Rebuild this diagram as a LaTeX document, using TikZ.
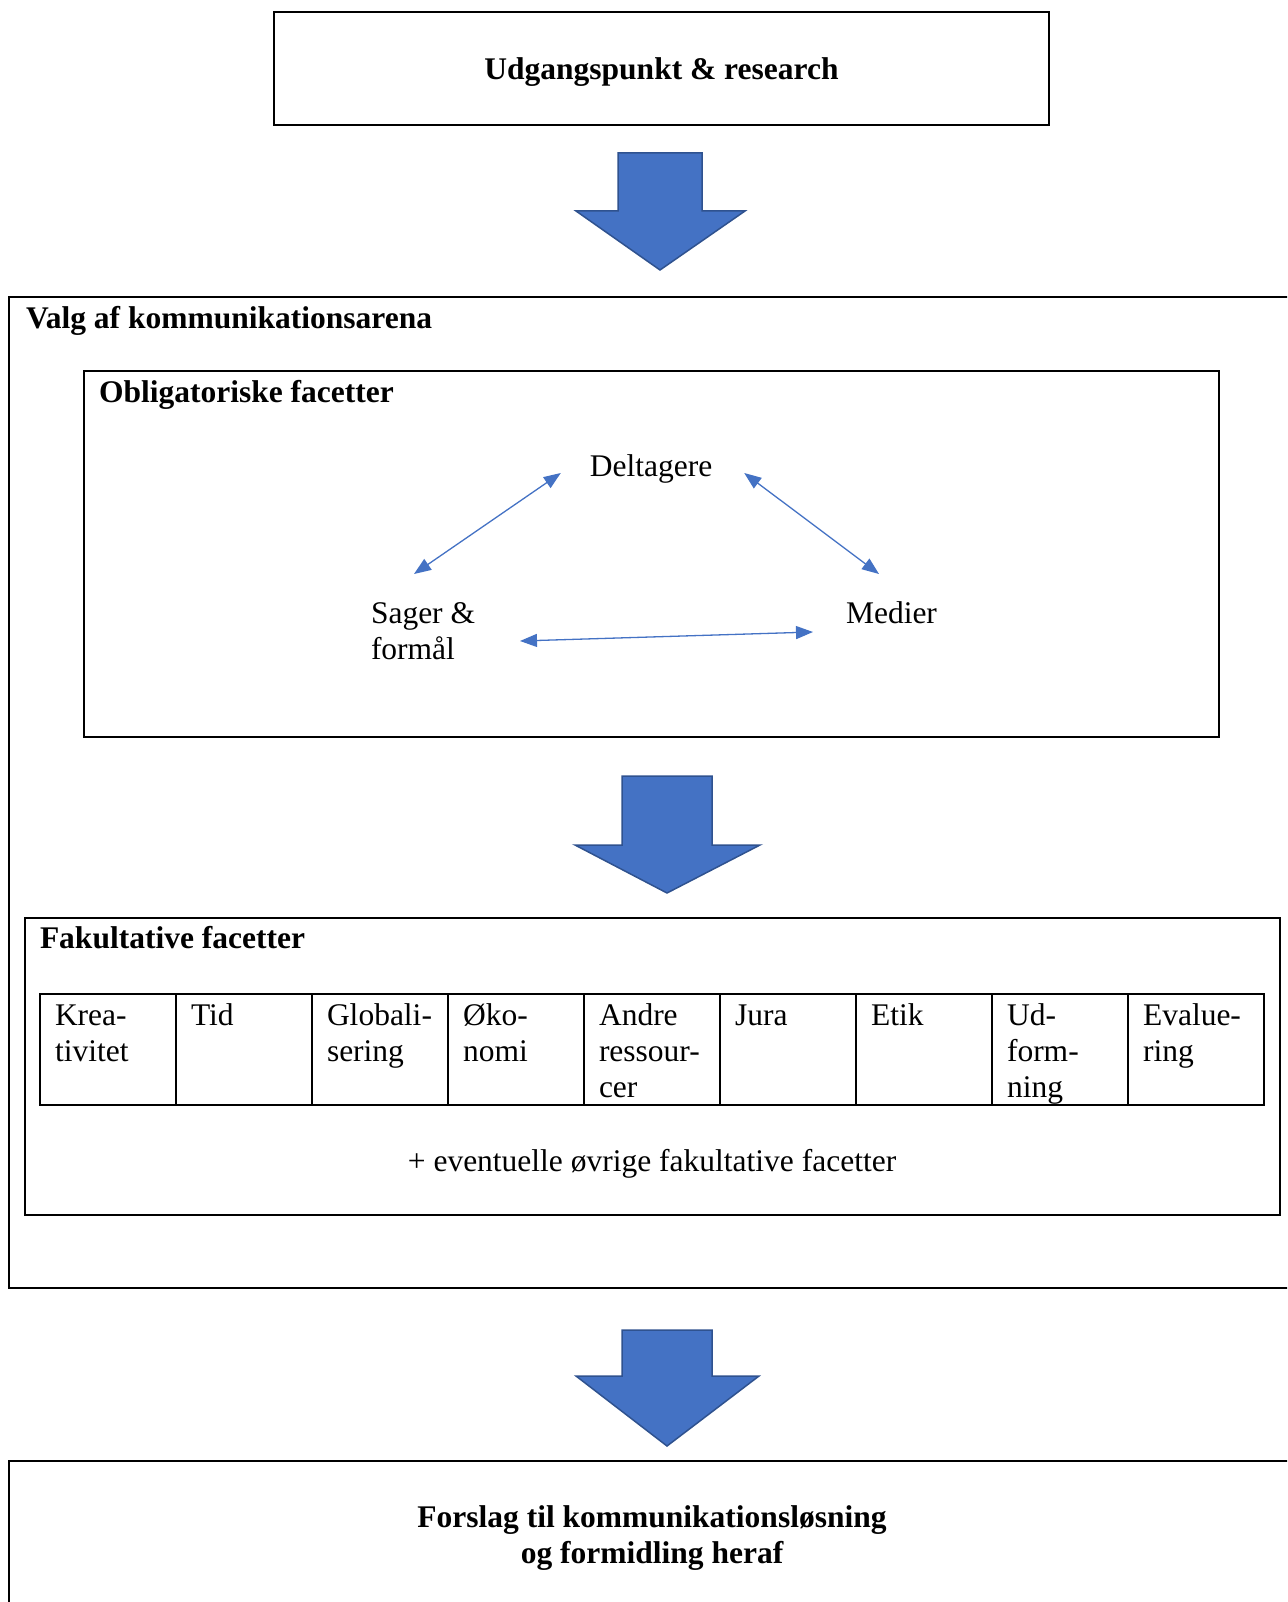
\documentclass[tikz,border=0pt]{standalone}
\usepackage{fontspec}
\setmainfont{Liberation Serif}
\usetikzlibrary{arrows.meta,calc}
\definecolor{officeblue}{HTML}{4472C4}
\definecolor{officeedge}{HTML}{2F528F}

\begin{document}
\begin{tikzpicture}[x=1pt,y=-1pt,
  every node/.style={font=\fontsize{31.5}{36.3}\selectfont, inner sep=0pt, outer sep=0pt},
  frame/.style={draw=black, line width=2pt, anchor=north west},
  heading/.style={anchor=base west, font=\fontsize{31.5}{36.3}\selectfont\bfseries},
  plain/.style={anchor=base west},
  bigarrow/.style={fill=officeblue, draw=officeedge, line width=1.5pt, line join=miter},
  link/.style={draw=officeblue, line width=1.3pt,
    {Triangle[length=17pt,width=13pt]}-{Triangle[length=17pt,width=13pt]}},
]
\useasboundingbox (0,0) rectangle (1287,1602);
\clip (0,0) rectangle (1287,1602);

% --- starting point -------------------------------------------------
\node[frame, minimum width=775pt, minimum height=113pt] (start) at (274,12) {};
\node[anchor=base, font=\fontsize{31.5}{36.3}\selectfont\bfseries] (starttxt) at (661.5,80) {Udgangspunkt \& research};

\path[bigarrow] (618,153) -- (702,153) -- (702,211) -- (745,211) -- (660,270)
  -- (576,211) -- (618,211) -- cycle;

% --- arena ------------------------------------------------------------
\node[frame, minimum width=1300pt, minimum height=991pt] (arena) at (9,297) {};
\node[heading] (arenatxt) at (26,328) {Valg af kommunikationsarena};

% mandatory facets
\node[frame, minimum width=1135pt, minimum height=366pt] (oblig) at (84,371) {};
\node[heading] (obligtxt) at (99,402) {Obligatoriske facetter};

\node[anchor=base] (delt) at (651,476) {Deltagere};
\node[plain] (sager) at (371,623) {\begin{tabular}[t]{@{}l@{}}Sager \&\\formål\end{tabular}};
\node[plain] (medier) at (846,623) {Medier};

\draw[link] ($(delt.base west)+(-29,-3)$) -- ($(sager.base west)+(43,-49)$);
\draw[link] ($(delt.base east)+(32,-3)$) -- ($(medier.base west)+(33,-49)$);
\draw[link] ($(sager.base west)+(149,18)$) -- ($(medier.base west)+(-33,9)$);

\path[bigarrow] (622,776) -- (712,776) -- (712,845) -- (760,845) -- (667,893)
  -- (575,845) -- (622,845) -- cycle;

% optional facets
\node[frame, minimum width=1255pt, minimum height=297pt] (fakult) at (25,918) {};
\node[heading] (fakulttxt) at (40,948) {Fakultative facetter};

\node[frame, minimum width=1224pt, minimum height=111pt] (tbl) at (40,994) {};
\foreach \i in {1,...,8}
  \draw[line width=2pt] ($(tbl.north west)+(136*\i,0)$) -- ($(tbl.south west)+(136*\i,0)$);

\node[plain] (c1) at (55,1025)   {\begin{tabular}[t]{@{}l@{}}Krea-\\tivitet\end{tabular}};
\node[plain] (c2) at (191,1025)  {Tid};
\node[plain] (c3) at (327,1025)  {\begin{tabular}[t]{@{}l@{}}Globali-\\sering\end{tabular}};
\node[plain] (c4) at (463,1025)  {\begin{tabular}[t]{@{}l@{}}Øko-\\nomi\end{tabular}};
\node[plain] (c5) at (599,1025)  {\begin{tabular}[t]{@{}l@{}}Andre\\ressour-\\cer\end{tabular}};
\node[plain] (c6) at (735,1025)  {Jura};
\node[plain] (c7) at (871,1025)  {Etik};
\node[plain] (c8) at (1007,1025) {\begin{tabular}[t]{@{}l@{}}Ud-\\form-\\ning\end{tabular}};
\node[plain] (c9) at (1143,1025) {\begin{tabular}[t]{@{}l@{}}Evalue-\\ring\end{tabular}};

\node[anchor=base] (more) at (652,1171) {+ eventuelle øvrige fakultative facetter};

% --- result -------------------------------------------------------------
\path[bigarrow] (622,1330) -- (712,1330) -- (712,1376) -- (759,1376) -- (667,1446)
  -- (576,1376) -- (622,1376) -- cycle;

\node[frame, minimum width=1301pt, minimum height=160pt] (result) at (9,1461) {};
\node[anchor=base, font=\fontsize{31.5}{36.3}\selectfont\bfseries] (resulttxt) at (652,1527)
  {\begin{tabular}[t]{@{}c@{}}Forslag til kommunikationsløsning\\og formidling heraf\end{tabular}};
\end{tikzpicture}
\end{document}
